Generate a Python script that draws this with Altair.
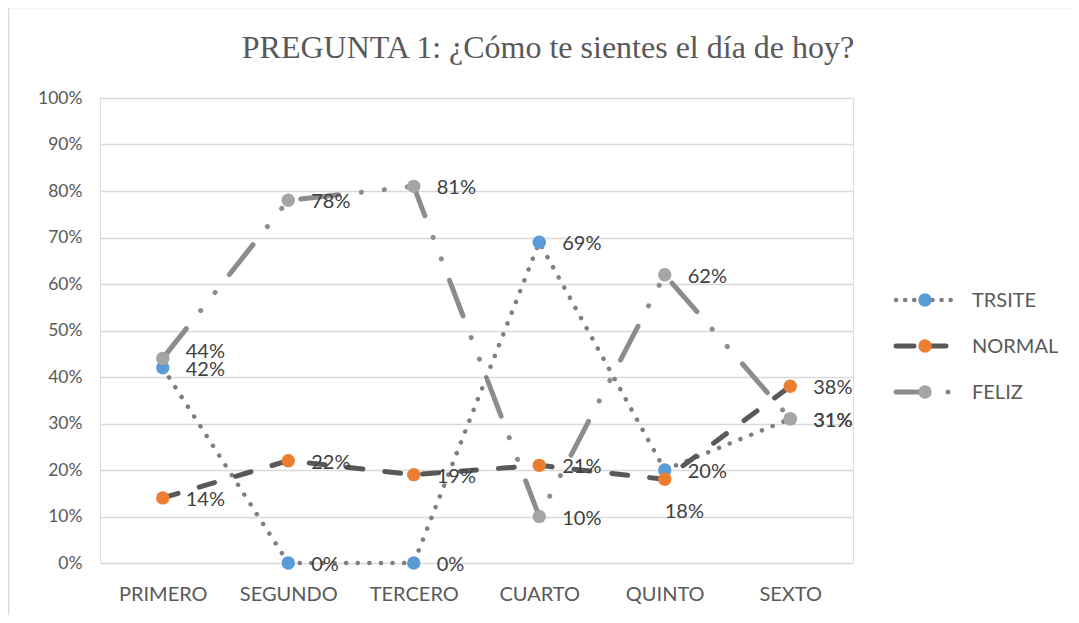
import altair as alt
import pandas as pd

categories = ["PRIMERO", "SEGUNDO", "TERCERO", "CUARTO", "QUINTO", "SEXTO"]
series_names = ["TRSITE", "NORMAL", "FELIZ"]
trsite = [0.42, 0.00, 0.00, 0.69, 0.20, 0.31]
normal = [0.14, 0.22, 0.19, 0.21, 0.18, 0.38]
feliz = [0.44, 0.78, 0.81, 0.10, 0.62, 0.31]
y_ticks = [0, 0.1, 0.2, 0.3, 0.4, 0.5, 0.6, 0.7, 0.8, 0.9, 1.0]
title_text = "PREGUNTA 1: ¿Cómo te sientes el día de hoy?"

rows = []
for name, vals in zip(series_names, [trsite, normal, feliz]):
    for c, v in zip(categories, vals):
        rows.append({"cat": c, "series": name, "value": v})
df = pd.DataFrame(rows)

W, H = 753, 465
FS = 20
point_colors = {"TRSITE": "#5B9BD5", "NORMAL": "#ED7D31", "FELIZ": "#A5A5A5"}
line_colors = {"TRSITE": "#7F7F7F", "NORMAL": "#595959", "FELIZ": "#8C8C8C"}
dashes = {"TRSITE": [0.1, 11.5], "NORMAL": [16, 22], "FELIZ": [38, 23, 0.1, 23, 0.1, 23]}
widths = {"TRSITE": 4.5, "NORMAL": 5, "FELIZ": 5}

xenc = alt.X("cat:N", sort=categories,
             scale=alt.Scale(type="point", padding=0.5),
             axis=alt.Axis(title=None, labelAngle=0, domain=False, ticks=False,
                           labelPadding=21, labelFontSize=FS, labelColor="#595959",
                           labelFont="Lato", grid=False))
yenc = alt.Y("value:Q", scale=alt.Scale(domain=[0, 1]),
             axis=alt.Axis(title=None, values=y_ticks, format=".0%", domain=False,
                           ticks=False, labelPadding=18, labelFontSize=17.5,
                           labelColor="#595959", labelFont="Lato",
                           gridColor="#D9D9D9", gridWidth=1.5))

base = alt.Chart(df).encode(x=xenc, y=yenc)
one = pd.DataFrame({"a": [0]})

layers = []
# border
layers.append(alt.Chart(one).mark_rect(
    fill=None, stroke="#D9D9D9", strokeWidth=1.5
).encode(x=alt.value(-91.5), y=alt.value(-90.5), x2=alt.value(1200), y2=alt.value(700)))

# title
layers.append(alt.Chart(pd.DataFrame({"t": [title_text]})).mark_text(
    font="Liberation Serif", fontSize=32, color="#595959", align="center",
    baseline="alphabetic").encode(x=alt.value(448), y=alt.value(-40), text="t:N"))

for s in series_names:
    layers.append(base.transform_filter(alt.datum.series == s).mark_line(
        color=line_colors[s], strokeWidth=widths[s], strokeDash=dashes[s],
        strokeCap="round"))
for s in series_names:
    layers.append(base.transform_filter(alt.datum.series == s).mark_point(
        filled=True, size=180, opacity=1, color=point_colors[s]))

label_style = dict(align="left", baseline="middle", fontSize=FS, font="Lato", color="#404040")
lab = base.encode(text=alt.Text("value:Q", format=".0%"))
layers.append(lab.transform_filter(
    "!((datum.series == 'FELIZ' && datum.cat == 'PRIMERO') || (datum.series == 'NORMAL' && datum.cat == 'QUINTO'))"
).mark_text(dx=23, dy=2, **label_style))
layers.append(lab.transform_filter(
    "datum.series == 'FELIZ' && datum.cat == 'PRIMERO'").mark_text(dx=23, dy=-6, **label_style))
layers.append(lab.transform_filter(
    "datum.series == 'NORMAL' && datum.cat == 'QUINTO'").mark_text(dx=0, dy=33, **label_style))

# legend
leg_y = {"TRSITE": 202, "NORMAL": 248, "FELIZ": 294}
for s in series_names:
    yy = leg_y[s]
    if s == "FELIZ":
        layers.append(alt.Chart(one).mark_rule(color=line_colors[s], strokeWidth=widths[s],
                                               strokeCap="round").encode(
            x=alt.value(796), x2=alt.value(825), y=alt.value(yy)))
        layers.append(alt.Chart(one).mark_rule(color=line_colors[s], strokeWidth=widths[s],
                                               strokeCap="round", strokeDash=[0.1, 10]).encode(
            x=alt.value(848), x2=alt.value(849), y=alt.value(yy)))
    else:
        layers.append(alt.Chart(one).mark_rule(color=line_colors[s], strokeWidth=widths[s],
                                               strokeCap="round",
                                               strokeDash=[0.1, 9] if s == "TRSITE" else [18, 14]).encode(
            x=alt.value(796), x2=alt.value(857), y=alt.value(yy)))
    layers.append(alt.Chart(one).mark_point(filled=True, size=180, opacity=1,
                                            color=point_colors[s]).encode(
        x=alt.value(825), y=alt.value(yy)))
    layers.append(alt.Chart(pd.DataFrame({"t": [s]})).mark_text(**{**label_style, "color": "#595959"}).encode(
        x=alt.value(872), y=alt.value(yy + 1), text="t:N"))

chart = alt.layer(*layers).properties(
    width=W, height=H,
    autosize=alt.AutoSizeParams(type="none"),
    padding={"left": 92, "top": 90, "right": 218, "bottom": 52},
).configure_view(stroke=None).configure(background="white")

chart.save("out.html", embed_options={"renderer": "svg", "actions": False})
